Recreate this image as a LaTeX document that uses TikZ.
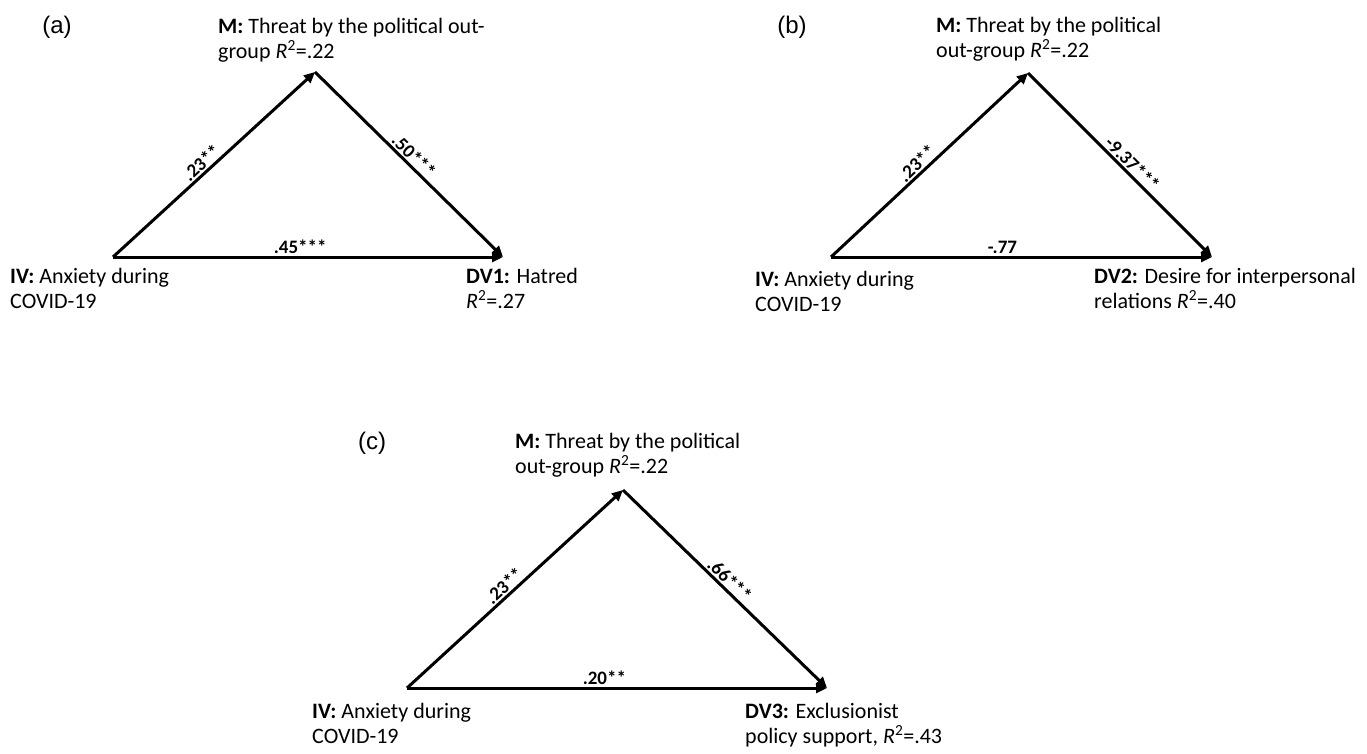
\documentclass[tikz,border=0pt]{standalone}
\usepackage{fontspec}
\setmainfont{Carlito}
\newfontfamily\panelfont{Liberation Sans}
\usetikzlibrary{arrows.meta}
\newcommand{\Rsq}{\textit{R}\textsuperscript{2}}

\begin{document}
\begin{tikzpicture}[x=1pt, y=-1pt,
    var/.style={anchor=north west, align=left, inner sep=0pt, font=\fontsize{22}{25}\selectfont},
    coef/.style={sloped, above, inner sep=1.5pt, font=\bfseries\fontsize{19}{22}\selectfont},
    panel/.style={inner sep=0pt, font=\panelfont\fontsize{24}{28}\selectfont},
    effect/.style={line width=3pt, -{Triangle[length=11pt, width=10pt]}}]
    \useasboundingbox (0,0) rectangle (1367,753);

    % Panel (a)
    \node[panel] (a-lbl) at (57, 27) {(a)};
    \coordinate (a-iv) at (113, 257);
    \coordinate (a-m) at (315, 72);
    \coordinate (a-dv) at (503, 257);
    \node[var] (a-mtxt) at (218, 18) {\textbf{M:} Threat by the political out-\\group \Rsq=.22};
    \node[var] (a-ivtxt) at (10, 268) {\textbf{IV:} Anxiety during\\COVID-19};
    \node[var] (a-dvtxt) at (466, 268) {\textbf{DV1:} Hatred\\\Rsq=.27};
    \draw[effect] (a-iv) -- node[coef, pos=0.47] {.23**} (a-m);
    \draw[effect] (a-m) -- node[coef, pos=0.49] {.50***} (a-dv);
    \draw[effect] (a-iv) -- node[coef, pos=0.48] {.45***} (a-dv);

    % Panel (b)
    \node[panel] (b-lbl) at (792, 27) {(b)};
    \coordinate (b-iv) at (831, 257);
    \coordinate (b-m) at (1028, 73);
    \coordinate (b-dv) at (1212, 257);
    \node[var] (b-mtxt) at (936, 17) {\textbf{M:} Threat by the political\\out-group \Rsq=.22};
    \node[var] (b-ivtxt) at (755, 271) {\textbf{IV:} Anxiety during\\COVID-19};
    \node[var] (b-dvtxt) at (1094, 268) {\textbf{DV2:} Desire for interpersonal\\relations \Rsq=.40};
    \draw[effect] (b-iv) -- node[coef, pos=0.47] {.23**} (b-m);
    \draw[effect] (b-m) -- node[coef, pos=0.53] {-9.37***} (b-dv);
    \draw[effect] (b-iv) -- node[coef, pos=0.45] {-.77} (b-dv);

    % Panel (c)
    \node[panel] (c-lbl) at (372, 443) {(c)};
    \coordinate (c-iv) at (407, 688);
    \coordinate (c-m) at (623, 490);
    \coordinate (c-dv) at (827, 688);
    \node[var] (c-mtxt) at (515, 433) {\textbf{M:} Threat by the political\\out-group \Rsq=.22};
    \node[var] (c-ivtxt) at (312, 703) {\textbf{IV:} Anxiety during\\COVID-19};
    \node[var] (c-dvtxt) at (745, 703) {\textbf{DV3:} Exclusionist\\policy support, \Rsq=.43};
    \draw[effect] (c-iv) -- node[coef, pos=0.48] {.23**} (c-m);
    \draw[effect] (c-m) -- node[coef, pos=0.49] {.66***} (c-dv);
    \draw[effect] (c-iv) -- node[coef, pos=0.47] {.20**} (c-dv);
\end{tikzpicture}
\end{document}
